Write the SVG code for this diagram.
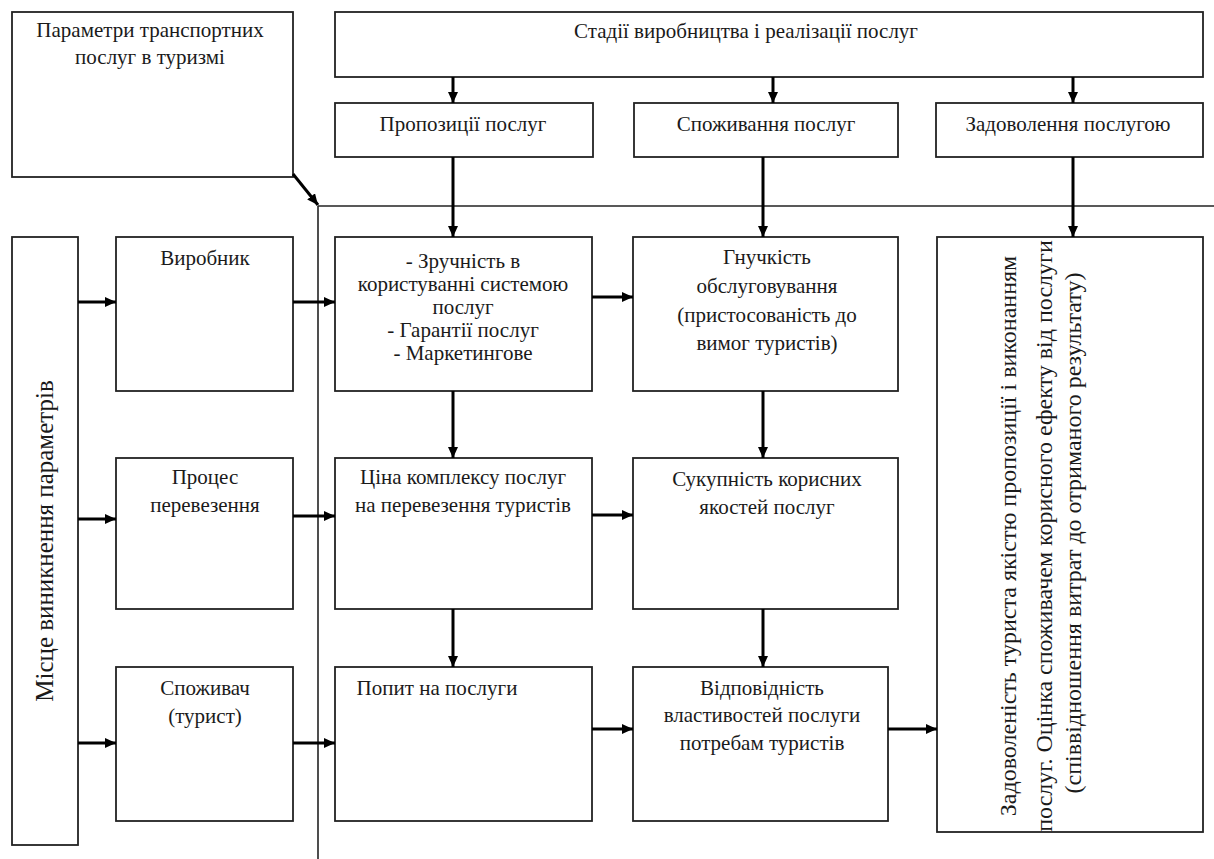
<svg xmlns="http://www.w3.org/2000/svg" width="1214" height="859" viewBox="0 0 1214 859">
<style>
.box{fill:#fff;stroke:#222;stroke-width:1.8}
.t{font-size:21px;fill:#1a1a1a;text-anchor:middle}
.r{font-size:24px}
.l{font-size:25px}
.c{stroke:#000;stroke-width:3;fill:none}
.d{stroke:#222;stroke-width:1.6;fill:none}
</style>
<defs>
<marker id="ah" markerUnits="userSpaceOnUse" markerWidth="11" markerHeight="10" refX="11" refY="5" orient="auto">
<path d="M0,0 L11,5 L0,10 z" fill="#000"/>
</marker>
</defs>
<rect width="1214" height="859" fill="#fff"/>
<g id="dividers">
<line class="d" x1="318" y1="206" x2="1214" y2="206"/>
<line class="d" x1="318" y1="206" x2="318" y2="859"/>
</g>
<g id="nodes" font-family="Liberation Serif, Times New Roman, serif">
<g id="n-params"><rect class="box" x="12" y="12" width="281" height="165"/>
<text class="t" x="150" y="37">Параметри транспортних</text>
<text class="t" x="150" y="64">послуг в туризмі</text></g>
<g id="n-stages"><rect class="box" x="335" y="12" width="868" height="65"/>
<text class="t" x="746" y="38">Стадії виробництва і реалізації послуг</text></g>
<g id="n-offer"><rect class="box" x="335" y="103" width="258" height="54"/>
<text class="t" x="463" y="131">Пропозиції послуг</text></g>
<g id="n-consume"><rect class="box" x="634" y="103" width="264" height="54"/>
<text class="t" x="766" y="131">Споживання послуг</text></g>
<g id="n-satisf"><rect class="box" x="936" y="103" width="267" height="54"/>
<text class="t" x="1068" y="131">Задоволення послугою</text></g>
<g id="n-place"><rect class="box" x="12" y="237" width="66" height="608"/>
<text class="t l" transform="translate(53,541) rotate(-90)">Місце виникнення параметрів</text></g>
<g id="n-producer"><rect class="box" x="116" y="237" width="177" height="154"/>
<text class="t" x="205" y="265">Виробник</text></g>
<g id="n-process"><rect class="box" x="116" y="458" width="177" height="151"/>
<text class="t" x="205" y="484">Процес</text>
<text class="t" x="205" y="512">перевезення</text></g>
<g id="n-consumer"><rect class="box" x="116" y="667" width="177" height="154"/>
<text class="t" x="205" y="695">Споживач</text>
<text class="t" x="205" y="723">(турист)</text></g>
<g id="n-convenience"><rect class="box" x="335" y="237" width="257" height="154"/>
<text class="t" x="463" y="268">- Зручність в</text>
<text class="t" x="463" y="291">користуванні системою</text>
<text class="t" x="463" y="314">послуг</text>
<text class="t" x="463" y="337">- Гарантії послуг</text>
<text class="t" x="463" y="360">- Маркетингове</text></g>
<g id="n-price"><rect class="box" x="335" y="458" width="257" height="151"/>
<text class="t" x="463" y="484">Ціна комплексу послуг</text>
<text class="t" x="463" y="512">на перевезення туристів</text></g>
<g id="n-demand"><rect class="box" x="335" y="667" width="257" height="154"/>
<text class="t" x="437" y="695">Попит на послуги</text></g>
<g id="n-flex"><rect class="box" x="633" y="237" width="265" height="154"/>
<text class="t" x="767" y="264">Гнучкість</text>
<text class="t" x="767" y="293">обслуговування</text>
<text class="t" x="767" y="322">(пристосованість до</text>
<text class="t" x="767" y="350">вимог туристів)</text></g>
<g id="n-useful"><rect class="box" x="633" y="458" width="265" height="151"/>
<text class="t" x="767" y="486">Сукупність корисних</text>
<text class="t" x="767" y="514">якостей послуг</text></g>
<g id="n-match"><rect class="box" x="633" y="667" width="255" height="154"/>
<text class="t" x="762" y="695">Відповідність</text>
<text class="t" x="762" y="722">властивостей послуги</text>
<text class="t" x="762" y="750">потребам туристів</text></g>
<g id="n-result"><rect class="box" x="937" y="237" width="266" height="595"/>
<text class="t r" transform="translate(1016,536) rotate(-90)">Задоволеність туриста якістю пропозиції і виконанням</text>
<text class="t r" transform="translate(1052,536) rotate(-90)">послуг. Оцінка споживачем корисного ефекту  від послуги</text>
<text class="t r" transform="translate(1081,533) rotate(-90)">(співвідношення витрат до отриманого результату)</text></g>
</g>
<g id="connectors">
<line class="c" x1="293" y1="174" x2="318" y2="205" marker-end="url(#ah)"/>
<line class="c" x1="453" y1="77" x2="453" y2="103" marker-end="url(#ah)"/>
<line class="c" x1="773" y1="77" x2="773" y2="103" marker-end="url(#ah)"/>
<line class="c" x1="1073" y1="77" x2="1073" y2="103" marker-end="url(#ah)"/>
<line class="c" x1="453" y1="157" x2="453" y2="237" marker-end="url(#ah)"/>
<line class="c" x1="763" y1="157" x2="763" y2="237" marker-end="url(#ah)"/>
<line class="c" x1="1073" y1="157" x2="1073" y2="237" marker-end="url(#ah)"/>
<line class="c" x1="78" y1="302" x2="116" y2="302" marker-end="url(#ah)"/>
<line class="c" x1="78" y1="519" x2="116" y2="519" marker-end="url(#ah)"/>
<line class="c" x1="78" y1="743" x2="116" y2="743" marker-end="url(#ah)"/>
<line class="c" x1="293" y1="302" x2="335" y2="302" marker-end="url(#ah)"/>
<line class="c" x1="293" y1="516" x2="335" y2="516" marker-end="url(#ah)"/>
<line class="c" x1="293" y1="743" x2="335" y2="743" marker-end="url(#ah)"/>
<line class="c" x1="592" y1="297" x2="633" y2="297" marker-end="url(#ah)"/>
<line class="c" x1="592" y1="515" x2="633" y2="515" marker-end="url(#ah)"/>
<line class="c" x1="592" y1="729" x2="633" y2="729" marker-end="url(#ah)"/>
<line class="c" x1="888" y1="729" x2="937" y2="729" marker-end="url(#ah)"/>
<line class="c" x1="453" y1="391" x2="453" y2="458" marker-end="url(#ah)"/>
<line class="c" x1="453" y1="609" x2="453" y2="667" marker-end="url(#ah)"/>
<line class="c" x1="763" y1="391" x2="763" y2="458" marker-end="url(#ah)"/>
<line class="c" x1="763" y1="609" x2="763" y2="667" marker-end="url(#ah)"/>
</g>
</svg>
